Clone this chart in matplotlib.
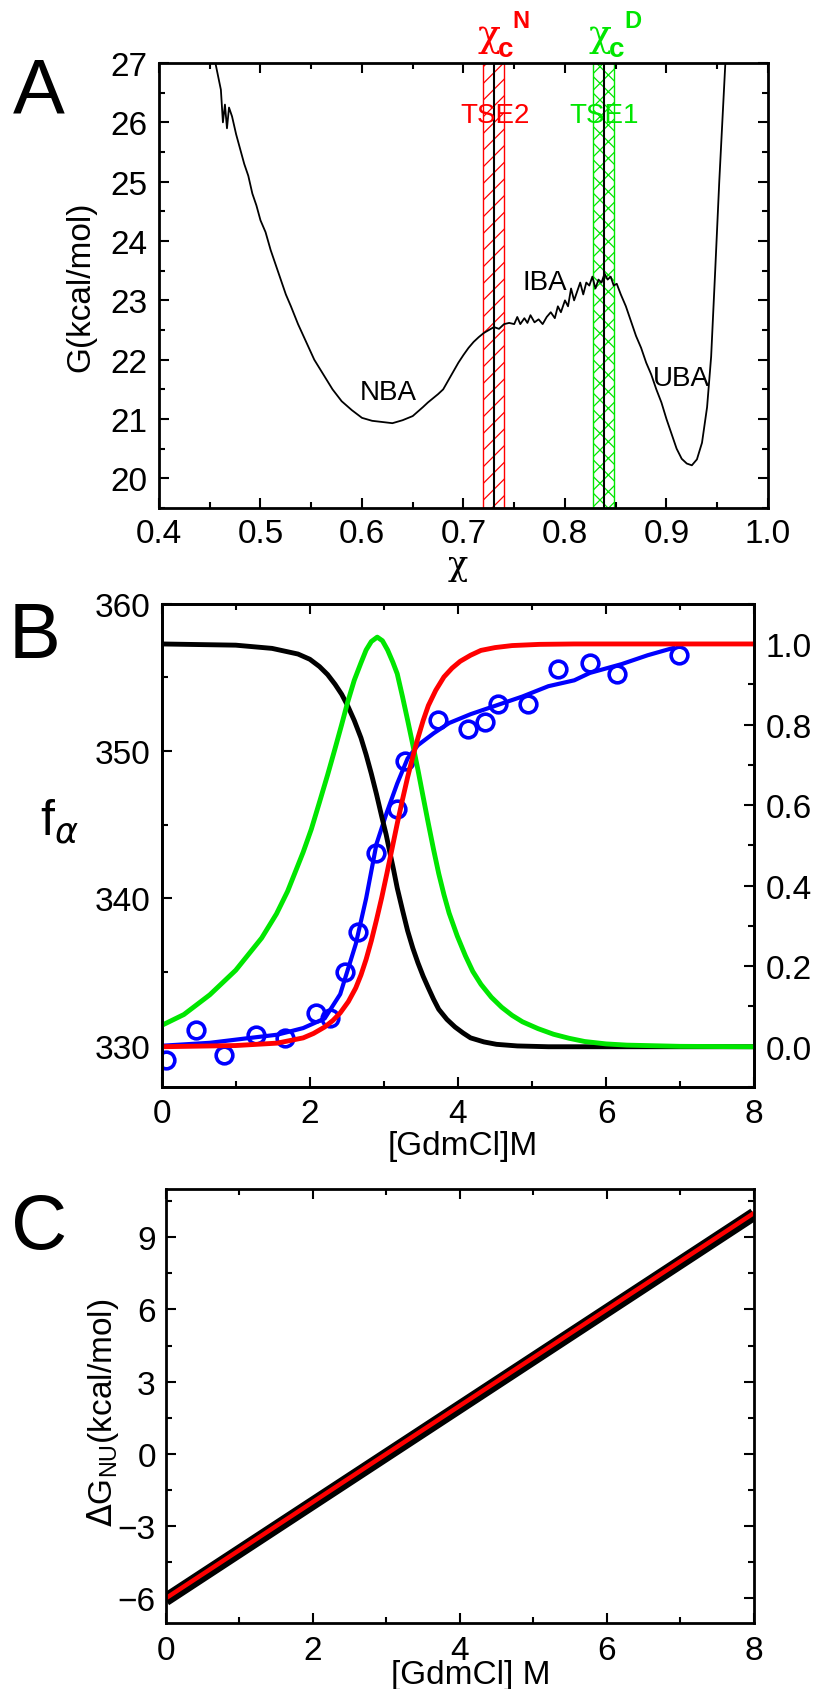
import numpy as np
import matplotlib.pyplot as plt
from matplotlib.ticker import MultipleLocator
from matplotlib.transforms import blended_transform_factory

plt.rcParams['font.family'] = ['Liberation Sans', 'DejaVu Sans']
plt.rcParams['hatch.linewidth'] = 0.9

# ---- panel A: free energy profile G(chi)
chi_a = [0.450, 0.455, 0.458, 0.461, 0.463, 0.465, 0.467, 0.469, 0.472, 0.476,
         0.480, 0.484, 0.488, 0.492, 0.496, 0.500, 0.505, 0.510, 0.515, 0.520,
         0.525, 0.530, 0.537, 0.545, 0.553, 0.562, 0.571, 0.580, 0.590, 0.600,
         0.610, 0.620, 0.630, 0.640, 0.650, 0.660, 0.665, 0.670, 0.675, 0.680,
         0.685, 0.690, 0.695, 0.700, 0.705, 0.710, 0.715, 0.720, 0.725, 0.730,
         0.735, 0.740, 0.745, 0.750, 0.753, 0.756, 0.760, 0.763, 0.766, 0.770,
         0.774, 0.778, 0.782, 0.786, 0.790, 0.793, 0.796, 0.800, 0.803, 0.806,
         0.809, 0.812, 0.815, 0.818, 0.821, 0.824, 0.827, 0.830, 0.833, 0.836,
         0.839, 0.842, 0.845, 0.848, 0.851, 0.855, 0.860, 0.865, 0.870, 0.875,
         0.880, 0.885, 0.890, 0.895, 0.900, 0.905, 0.910, 0.915, 0.920, 0.925,
         0.930, 0.935, 0.940, 0.944, 0.948, 0.952, 0.955, 0.958, 0.961]
g_a = [27.5, 27.05, 26.8, 26.55, 26.0, 26.3, 25.9, 26.25, 26.1, 25.8,
       25.55, 25.3, 25.1, 24.8, 24.6, 24.35, 24.15, 23.85, 23.6, 23.35,
       23.1, 22.9, 22.6, 22.3, 22.0, 21.75, 21.5, 21.3, 21.15, 21.02,
       20.97, 20.95, 20.93, 20.98, 21.05, 21.2, 21.28, 21.35, 21.42, 21.5,
       21.65, 21.8, 21.95, 22.08, 22.2, 22.3, 22.38, 22.45, 22.5, 22.55,
       22.52, 22.6, 22.62, 22.6, 22.72, 22.6, 22.7, 22.62, 22.75, 22.63,
       22.68, 22.6, 22.72, 22.8, 22.7, 22.9, 22.8, 23.0, 22.9, 23.2,
       23.0, 23.15, 23.3, 23.1, 23.3, 23.25, 23.4, 23.2, 23.35, 23.3,
       23.45, 23.35, 23.4, 23.25, 23.28, 23.1, 22.9, 22.65, 22.4, 22.2,
       21.95, 21.75, 21.5, 21.28, 21.0, 20.75, 20.5, 20.33, 20.25, 20.22,
       20.32, 20.6, 21.2, 22.05, 23.5, 25.0, 26.0, 27.0, 28.0]
tse2_band = (0.719, 0.740)
tse2_center = 0.730
tse1_band = (0.828, 0.848)
tse1_center = 0.838

# ---- panel B: denaturation curves (fractions, right axis)
x_black = [0, 1.0, 1.49, 1.84, 2.0, 2.13, 2.24, 2.34, 2.43, 2.51, 2.60, 2.69,
           2.76, 2.83, 2.90, 2.97, 3.03, 3.08, 3.13, 3.18, 3.25, 3.32, 3.39,
           3.46, 3.53, 3.60, 3.67, 3.74, 3.85, 3.96, 4.07, 4.17, 4.35, 4.52,
           4.8, 5.22, 8.0]
f_black = [1.0, 0.997, 0.989, 0.975, 0.962, 0.944, 0.924, 0.9, 0.875, 0.847,
           0.81, 0.767, 0.725, 0.678, 0.627, 0.572, 0.527, 0.483, 0.44, 0.394,
           0.34, 0.288, 0.245, 0.208, 0.175, 0.146, 0.118, 0.093, 0.068, 0.049,
           0.034, 0.022, 0.012, 0.006, 0.002, 0.0, 0.0]
x_red = [0, 1.0, 1.56, 1.91, 2.05, 2.20, 2.31, 2.41, 2.52, 2.62, 2.69, 2.76,
         2.83, 2.90, 2.97, 3.04, 3.11, 3.18, 3.25, 3.32, 3.39, 3.46, 3.53, 3.60,
         3.70, 3.81, 3.92, 4.03, 4.17, 4.31, 4.50, 4.73, 5.1, 5.57, 8.0]
f_red = [0.0, 0.003, 0.009, 0.022, 0.033, 0.049, 0.065, 0.084, 0.112, 0.146,
         0.178, 0.217, 0.263, 0.315, 0.37, 0.43, 0.492, 0.554, 0.613, 0.669,
         0.72, 0.767, 0.81, 0.847, 0.885, 0.918, 0.94, 0.957, 0.972, 0.984,
         0.991, 0.996, 0.999, 1.0, 1.0]
x_green = [0, 0.30, 0.65, 1.0, 1.35, 1.55, 1.70, 1.91, 2.02, 2.13, 2.24, 2.34,
           2.43, 2.51, 2.60, 2.69, 2.76, 2.83, 2.91, 2.98, 3.05, 3.12, 3.18,
           3.25, 3.32, 3.39, 3.46, 3.53, 3.60, 3.67, 3.74, 3.81, 3.88, 3.99,
           4.10, 4.20, 4.31, 4.45, 4.59, 4.73, 4.87, 5.08, 5.29, 5.50, 5.71,
           6.0, 6.28, 7.0, 8.0]
f_green = [0.053, 0.08, 0.129, 0.19, 0.27, 0.33, 0.386, 0.483, 0.54, 0.607,
           0.675, 0.74, 0.80, 0.855, 0.91, 0.953, 0.985, 1.006, 1.017, 1.008,
           0.985, 0.955, 0.926, 0.87, 0.811, 0.75, 0.687, 0.62, 0.554, 0.49,
           0.43, 0.378, 0.332, 0.275, 0.226, 0.187, 0.155, 0.123, 0.098, 0.078,
           0.062, 0.045, 0.031, 0.021, 0.013, 0.007, 0.004, 0.001, 0.0]
# measured points and fit (left axis)
gdm_exp = [0.06, 0.46, 0.84, 1.27, 1.67, 2.08, 2.27, 2.48, 2.65, 2.89, 3.18,
           3.29, 3.73, 4.14, 4.36, 4.54, 4.94, 5.35, 5.78, 6.15, 6.98]
wl_exp = [329.0, 331.1, 329.4, 330.7, 330.5, 332.2, 331.9, 335.0, 337.7, 343.1,
          346.1, 349.3, 352.1, 351.5, 352.0, 353.2, 353.2, 355.6, 356.0, 355.2, 356.5]
gdm_fit = [0, 0.65, 1.14, 1.56, 1.91, 2.20, 2.41, 2.62, 2.76, 2.90, 3.04, 3.18,
           3.32, 3.46, 3.67, 3.88, 4.17, 4.52, 4.87, 5.22, 5.57, 5.78, 6.21, 6.56, 6.91]
wl_fit = [330.0, 330.2, 330.5, 330.75, 331.2, 331.85, 333.5, 336.9, 340.0, 343.7,
          345.85, 347.8, 349.5, 350.4, 351.2, 351.9, 352.5, 353.1, 353.7, 354.4,
          354.8, 355.3, 355.9, 356.5, 357.0]

# ---- panel C: stability vs denaturant
gdm_c = [0, 8]
dg_sim = [-6.05, 9.95]
dg_fit = [-6.0, 10.0]

green = '#00e600'
fig = plt.figure(figsize=(8.19, 16.90), dpi=100)


def style(ax, right=True):
    for s in ax.spines.values():
        s.set_linewidth(2)
    ax.tick_params(which='both', direction='in', top=True, right=right,
                   width=1.5, labelsize=24, pad=8)
    ax.tick_params(which='major', length=7)
    ax.tick_params(which='minor', length=4)


# ================= A
axA = fig.add_axes([0.1941, 0.6988, 0.7436, 0.2633])
axA.axvspan(*tse2_band, facecolor='none', edgecolor='red', hatch='//', lw=1)
axA.axvline(tse2_center, color='k', lw=1.5)
axA.axvspan(*tse1_band, facecolor='none', edgecolor=green, hatch='xx', lw=1)
axA.axvline(tse1_center, color='k', lw=1.5)
axA.plot(chi_a, g_a, color='k', lw=1.3)
axA.set_xlim(0.4, 1.0)
axA.set_ylim(19.5, 27)
axA.xaxis.set_major_locator(MultipleLocator(0.1))
axA.xaxis.set_minor_locator(MultipleLocator(0.05))
axA.yaxis.set_major_locator(MultipleLocator(1))
axA.yaxis.set_minor_locator(MultipleLocator(0.5))
axA.xaxis.set_major_formatter(lambda v, p: f'{v:.1f}')
style(axA)
axA.tick_params(axis='x', pad=7)
axA.text(-0.128, 0.5, 'G(kcal/mol)', transform=axA.transAxes, rotation=90,
         ha='center', va='center', fontsize=24)
axA.text(0.49, -0.128, 'χ', transform=axA.transAxes, ha='center', va='center',
         fontsize=24, family='DejaVu Serif')
axA.text(0.626, 21.34, 'NBA', fontsize=20, ha='center', va='baseline')
axA.text(0.780, 23.2, 'IBA', fontsize=20, ha='center', va='baseline')
axA.text(0.915, 21.57, 'UBA', fontsize=20, ha='center', va='baseline')
axA.text(0.731, 26.0, 'TSE2', fontsize=20, ha='center', va='baseline', color='red')
axA.text(0.839, 26.0, 'TSE1', fontsize=20, ha='center', va='baseline', color=green)
tr = blended_transform_factory(axA.transData, axA.transAxes)
for xc, col, sup in [(0.7251, 'red', 'N'), (0.8345, green, 'D')]:
    axA.text(xc, 1.040, 'χ', transform=tr, color=col, fontsize=27, ha='center',
             va='baseline', family='DejaVu Serif', clip_on=False)
    axA.text(xc + 0.0168, 1.0157, 'c', transform=tr, color=col, fontsize=20,
             fontweight='bold', ha='center', va='baseline', clip_on=False)
    axA.text(xc + 0.0320, 1.081, sup, transform=tr, color=col, fontsize=17,
             fontweight='bold', ha='center', va='baseline', clip_on=False)

# ================= B
axB = fig.add_axes([0.1974, 0.3562, 0.7236, 0.2860])
axB2 = axB.twinx()
axB.plot(gdm_fit, wl_fit, color='#0000ff', lw=3)
axB.plot(gdm_exp, wl_exp, 'o', ms=12, mfc='none', mec='#0000ff', mew=2.6)
axB2.plot(x_black, f_black, color='k', lw=3.5)
axB2.plot(x_green, f_green, color=green, lw=3.5)
axB2.plot(x_red, f_red, color='red', lw=3.5)
axB.set_xlim(0, 8)
axB.set_ylim(327.2, 360)
axB2.set_ylim(-0.1, 1.1)
axB.xaxis.set_major_locator(MultipleLocator(2))
axB.xaxis.set_minor_locator(MultipleLocator(1))
axB.yaxis.set_major_locator(MultipleLocator(10))
axB.yaxis.set_minor_locator(MultipleLocator(5))
axB2.yaxis.set_major_locator(MultipleLocator(0.2))
axB2.yaxis.set_minor_locator(MultipleLocator(0.1))
axB2.yaxis.set_major_formatter(lambda v, p: f'{abs(v):.1f}' if abs(v) < 1e-9 else f'{v:.1f}')
style(axB, right=False)
style(axB2)
axB2.tick_params(which='both', left=False, top=False, bottom=False)
axB.tick_params(axis='x', pad=8)
axB.text(-0.172, 0.55, r'f$_\alpha$', transform=axB.transAxes, ha='center',
         va='center', fontsize=36)
axB.text(0.508, -0.122, '[GdmCl]M', transform=axB.transAxes, ha='center',
         va='center', fontsize=24)

# ================= C
axC = fig.add_axes([0.2021, 0.0393, 0.7185, 0.2566])
axC.plot(gdm_c, dg_sim, color='k', lw=9.4, solid_capstyle='butt')
axC.plot(gdm_c, dg_fit, color='red', lw=3.2, solid_capstyle='butt')
axC.set_xlim(0, 8)
axC.set_ylim(-7, 11)
axC.xaxis.set_major_locator(MultipleLocator(2))
axC.xaxis.set_minor_locator(MultipleLocator(1))
axC.yaxis.set_major_locator(MultipleLocator(3))
axC.yaxis.set_minor_locator(MultipleLocator(1.5))
style(axC)
axC.tick_params(axis='y', pad=7)
axC.tick_params(axis='x', pad=9)
axC.text(-0.106, 0.486, r'$\Delta$G$_{\mathregular{NU}}$(kcal/mol)',
         transform=axC.transAxes, rotation=90, ha='center', va='center', fontsize=24)
axC.text(0.519, -0.119, '[GdmCl] M', transform=axC.transAxes, ha='center',
         va='center', fontsize=24)

# panel letters
fig.text(0.0159, 0.9331, 'A', fontsize=56, ha='left', va='baseline')
fig.text(0.011, 0.6107, 'B', fontsize=56, ha='left', va='baseline')
fig.text(0.0134, 0.261, 'C', fontsize=56, ha='left', va='baseline')

fig.savefig('out.png', dpi=100)
